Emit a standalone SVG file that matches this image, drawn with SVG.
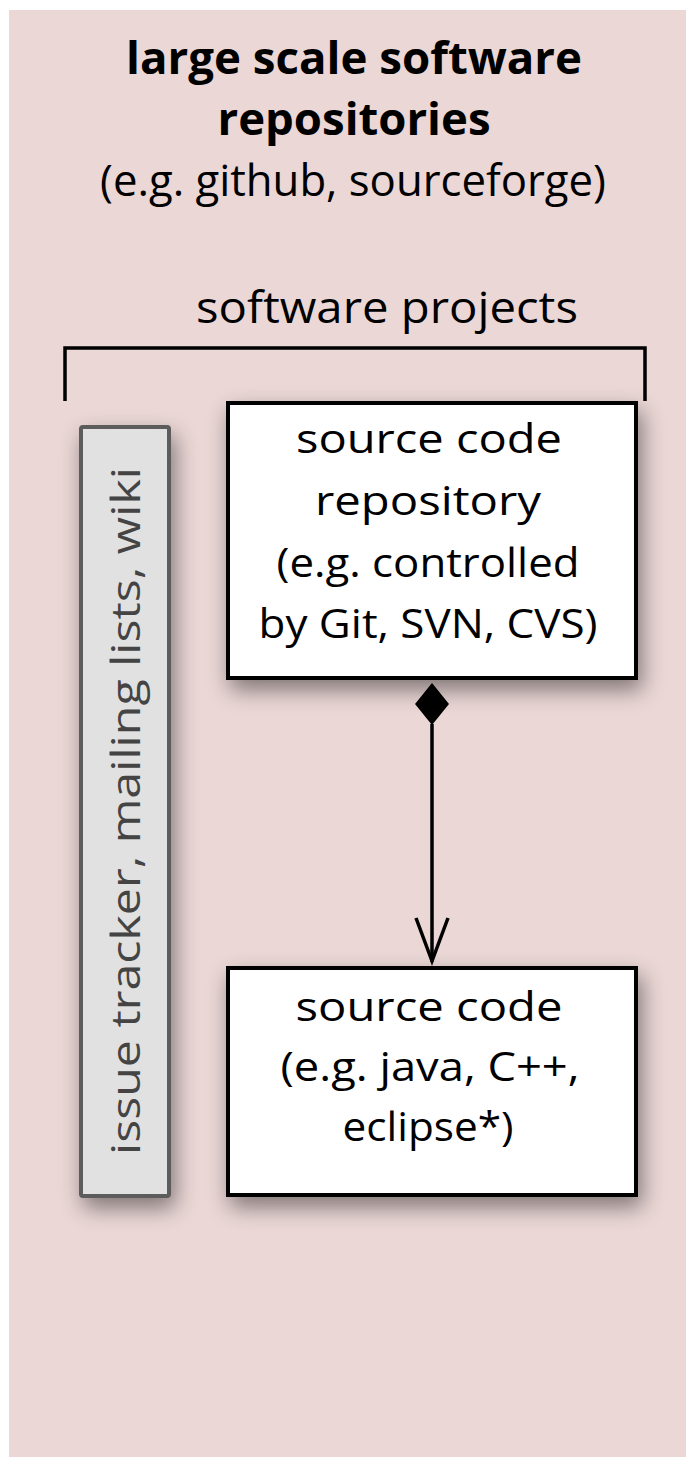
<svg xmlns="http://www.w3.org/2000/svg" width="686" height="1457" viewBox="0 0 686 1457">
<defs>
<style>
.t{font-family:"Open Sans","Liberation Sans",sans-serif;fill:#000;text-anchor:middle}
.lbl{font-size:41px}
.box{fill:#fff;stroke:#000;stroke-width:4}
</style>
<filter id="sh" x="-30%" y="-20%" width="170%" height="150%">
<feDropShadow dx="4" dy="10" stdDeviation="11" flood-color="#000" flood-opacity="0.45"/>
</filter>
</defs>
<rect id="bg" x="9" y="10" width="677" height="1447" fill="#ead7d6"/>
<g id="title">
<text class="t" x="354" y="74" font-size="44" font-weight="bold" textLength="456" lengthAdjust="spacingAndGlyphs">large scale software</text>
<text class="t" x="354" y="135" font-size="44" font-weight="bold" textLength="273" lengthAdjust="spacingAndGlyphs">repositories</text>
<text class="t" x="353" y="196" font-size="43" textLength="506" lengthAdjust="spacingAndGlyphs">(e.g. github, sourceforge)</text>
</g>
<g id="projects">
<text class="t" x="387" y="323" font-size="43" textLength="382" lengthAdjust="spacingAndGlyphs">software projects</text>
<path d="M65 401 V348 H645 V401" fill="none" stroke="#000" stroke-width="3.5"/>
</g>
<g id="tracker">
<rect x="81" y="427" width="88" height="769" rx="2" fill="#e1e1e1" stroke="#5b5b5b" stroke-width="4" filter="url(#sh)"/>
<text class="t" x="0" y="0" font-size="41" style="fill:#444" transform="translate(140 811) rotate(-90)" textLength="688" lengthAdjust="spacingAndGlyphs">issue tracker, mailing lists, wiki</text>
</g>
<g id="repo">
<rect class="box" x="228" y="403" width="408" height="275" filter="url(#sh)"/>
<text class="t lbl" x="429" y="453" textLength="266" lengthAdjust="spacingAndGlyphs">source code</text>
<text class="t lbl" x="428" y="515" textLength="226" lengthAdjust="spacingAndGlyphs">repository</text>
<text class="t lbl" x="428" y="577" textLength="303" lengthAdjust="spacingAndGlyphs">(e.g. controlled</text>
<text class="t lbl" x="428" y="638" textLength="339" lengthAdjust="spacingAndGlyphs">by Git, SVN, CVS)</text>
</g>
<g id="code">
<rect class="box" x="228" y="968" width="408" height="227" filter="url(#sh)"/>
<text class="t lbl" x="429" y="1021" textLength="267" lengthAdjust="spacingAndGlyphs">source code</text>
<text class="t lbl" x="430" y="1081" textLength="299" lengthAdjust="spacingAndGlyphs">(e.g. java, C++,</text>
<text class="t lbl" x="428" y="1141" textLength="171" lengthAdjust="spacingAndGlyphs">eclipse*)</text>
</g>
<g id="connectors">
<path d="M432 724 V962" stroke="#000" stroke-width="3.5" fill="none"/>
<path d="M432 683 L449 704 L432 725 L415 704 Z" fill="#000"/>
<path d="M416 918 L432 961 L448 918" stroke="#000" stroke-width="3.5" fill="none"/>
</g>
</svg>
